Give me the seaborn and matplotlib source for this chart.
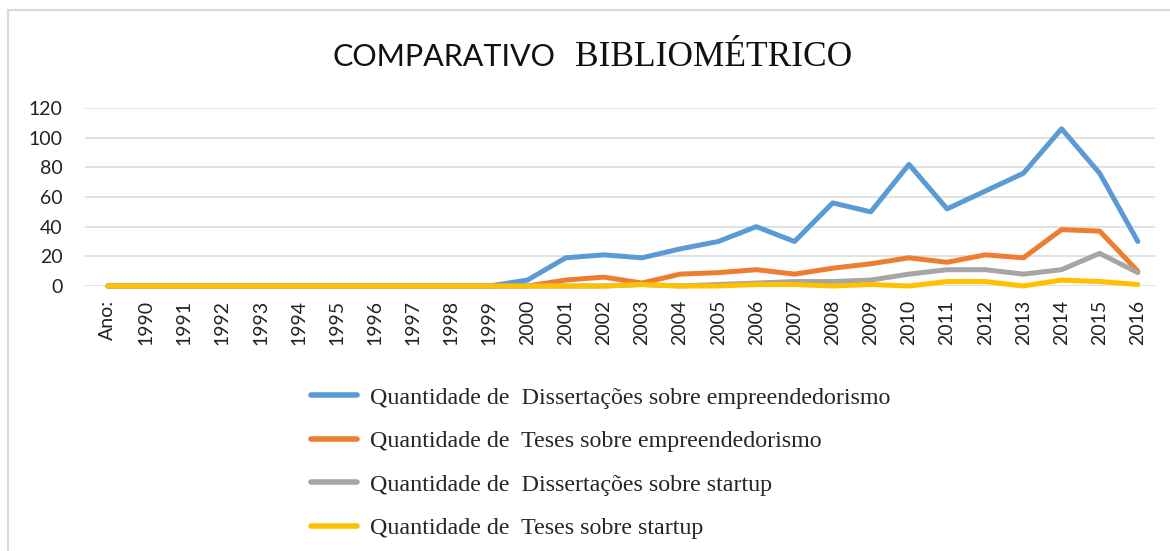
import pandas as pd
import seaborn as sns
from matplotlib import pyplot as plt
from matplotlib.patches import Rectangle

sns.set_style("white")

# categorias do eixo x
anos = ["Ano:"] + [str(a) for a in range(1990, 2017)]

# series
diss_empreend = [0] * 11 + [4, 19, 21, 19, 25, 30, 40, 30, 56, 50, 82, 52, 64, 76, 106, 76, 30]
teses_empreend = [0] * 11 + [0, 4, 6, 2, 8, 9, 11, 8, 12, 15, 19, 16, 21, 19, 38, 37, 10]
diss_startup = [0] * 11 + [0, 0, 0, 1, 0, 1, 2, 3, 3, 4, 8, 11, 11, 8, 11, 22, 9]
teses_startup = [0] * 11 + [0, 0, 0, 1, 0, 0, 1, 1, 0, 1, 0, 3, 3, 0, 4, 3, 1]

nomes = ["Quantidade de  Dissertações sobre empreendedorismo",
         "Quantidade de  Teses sobre empreendedorismo",
         "Quantidade de  Dissertações sobre startup",
         "Quantidade de  Teses sobre startup"]
cores = ["#5B9BD5", "#ED7D31", "#A5A5A5", "#FFC000"]

df = pd.concat([
    pd.DataFrame({"ano": anos, "valor": v, "serie": n})
    for v, n in zip([diss_empreend, teses_empreend, diss_startup, teses_startup], nomes)
])

fig = plt.figure(figsize=(11.7, 5.51), dpi=100)
ax = fig.add_axes([85 / 1170, 1 - 286 / 551, 1070 / 1170, 178 / 551])

sns.lineplot(data=df, x="ano", y="valor", hue="serie", hue_order=nomes,
             palette=cores, linewidth=3.6, ax=ax, sort=False)
for ln in ax.lines:
    ln.set_solid_capstyle("round")
    ln.set_solid_joinstyle("round")
    ln.set_clip_on(False)

ax.set_ylim(0, 120)
ax.set_yticks(range(0, 121, 20))
ax.set_xlim(-0.6, 27.45)
ax.yaxis.grid(True, color="#d9d9d9", linewidth=1.1)
ax.set_axisbelow(True)
for s in ax.spines.values():
    s.set_visible(False)
ax.set_xlabel("")
ax.set_ylabel("")
ax.tick_params(axis="y", length=0, pad=16, labelsize=14)
ax.tick_params(axis="x", length=0, pad=10, labelsize=14, rotation=90)
for t in ax.get_xticklabels() + ax.get_yticklabels():
    t.set_family("Lato")
    t.set_color("#222222")

ax.get_legend().remove()
leg = fig.legend(handles=ax.lines[:4], labels=nomes, loc="upper left",
                 bbox_to_anchor=(311 / 1170, 1 - 387 / 551), frameon=False,
                 prop={"family": "Liberation Serif", "size": 17.3},
                 handlelength=1.9, handletextpad=0.55, labelspacing=0.9,
                 borderpad=0, borderaxespad=0)
for h in leg.get_lines():
    h.set_linewidth(4)

fig.text(555 / 1170, 1 - 66 / 551, "COMPARATIVO", ha="right", va="baseline",
         fontsize=22, family="Lato", color="#111111")
fig.text(575 / 1170, 1 - 66 / 551, "BIBLIOMÉTRICO", ha="left", va="baseline",
         fontsize=25.5, family="Liberation Serif", color="#111111")

fig.patches.append(Rectangle((8 / 1170, -0.2), 1.2, 1.2 - 10 / 551,
                             transform=fig.transFigure, fill=False,
                             edgecolor="#d9d9d9", linewidth=1.5))

plt.savefig("out.png", dpi=100)
